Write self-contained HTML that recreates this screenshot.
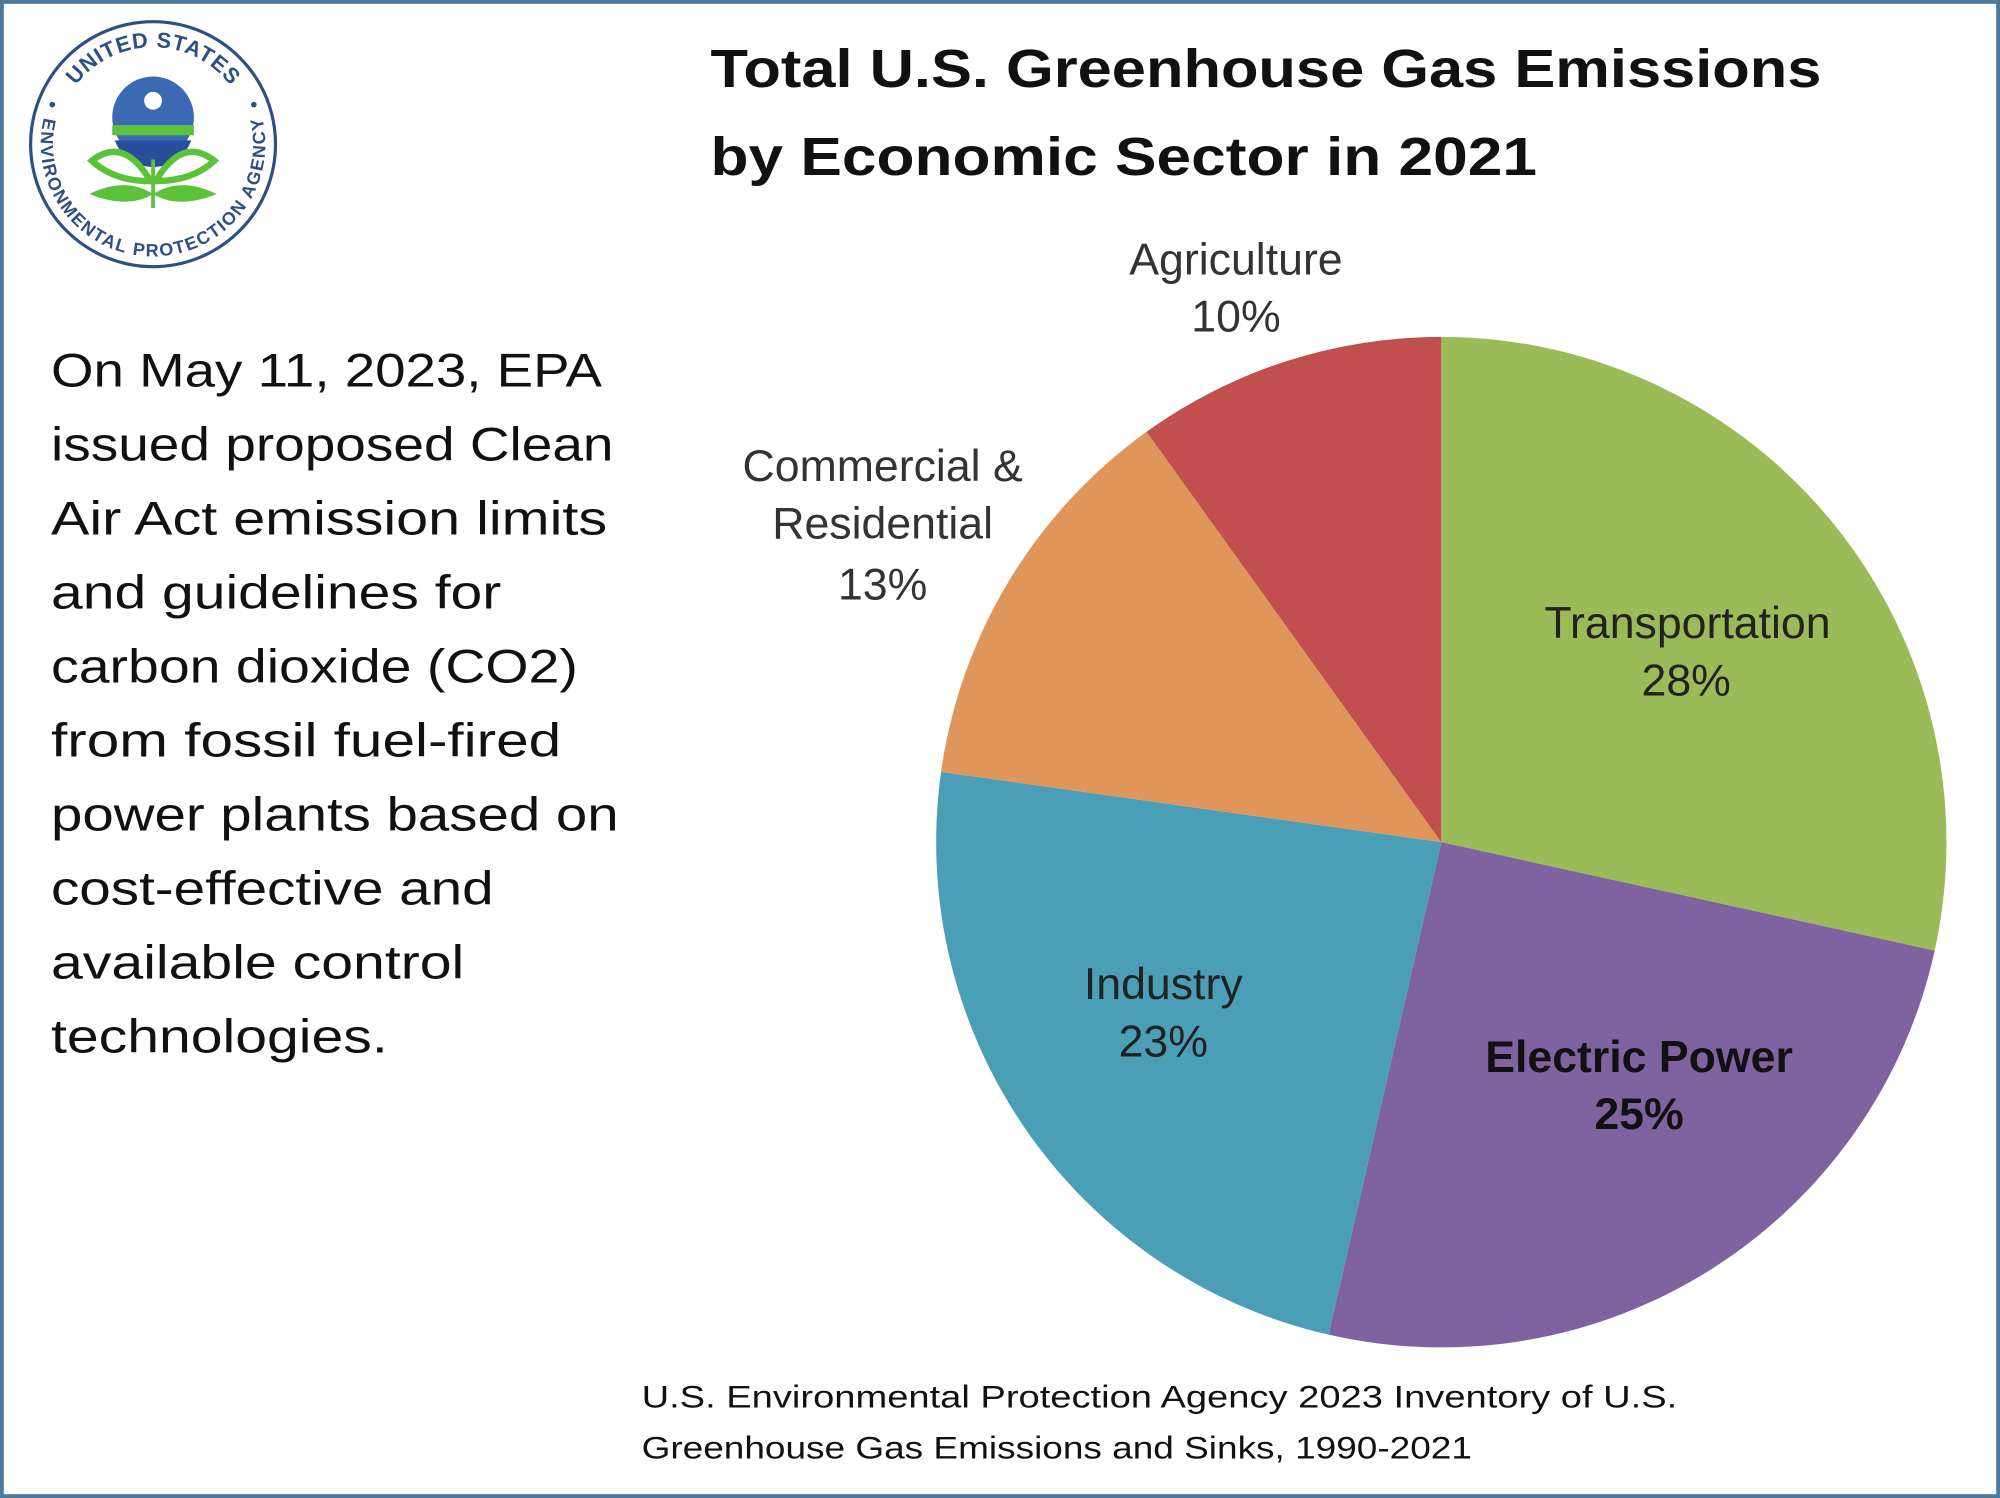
<!DOCTYPE html>
<html><head><meta charset="utf-8"><style>
html,body{margin:0;padding:0;background:#fff;}
svg{display:block;}
text{font-family:"Liberation Sans",sans-serif;}
</style></head><body>
<svg width="2000" height="1498" viewBox="0 0 1568 1174" preserveAspectRatio="none" xmlns="http://www.w3.org/2000/svg">
<rect x="0" y="0" width="1568" height="1174" fill="#fff"/>
<rect x="1.5" y="1.5" width="1565" height="1171" fill="none" stroke="#4a7a9c" stroke-width="3"/>

<!-- logo -->
<g>
<circle cx="120" cy="113" r="96" fill="#fff" stroke="#2c4f86" stroke-width="2.5"/>
<defs>
<path id="tp" d="M44,113 A76,76 0 0,1 196,113"/>
<path id="bp" d="M37.3,82.9 A88,88 0 1,0 202.7,82.9"/>
</defs>
<text font-size="17" font-weight="bold" fill="#2c4f86" text-anchor="middle"><textPath href="#tp" startOffset="50%" textLength="140" lengthAdjust="spacing">UNITED STATES</textPath></text>
<text font-size="14" font-weight="bold" fill="#2c4f86" text-anchor="middle"><textPath href="#bp" startOffset="50%" textLength="318" lengthAdjust="spacing">ENVIRONMENTAL PROTECTION AGENCY</textPath></text>
<circle cx="41" cy="82" r="2.2" fill="#2c4f86"/>
<circle cx="199" cy="82" r="2.2" fill="#2c4f86"/>
<circle cx="120" cy="92" r="32" fill="#3b69b3"/>
<rect x="88" y="98" width="64" height="8" fill="#5cc23a"/>
<path d="M90,110 A32,32 0 0,0 150,110 Z" fill="#264e9a"/>
<circle cx="120" cy="79" r="7" fill="#fff"/>
<path d="M118,142 C105,120 90,112 72,126 C85,138 102,142 118,142Z" fill="#fff" stroke="#5cc23a" stroke-width="5"/>
<path d="M122,142 C135,120 150,112 168,126 C155,138 138,142 122,142Z" fill="#fff" stroke="#5cc23a" stroke-width="5"/>
<path d="M70,152 C95,140 110,146 120,152 C110,158 95,162 70,152Z" fill="#5cc23a"/>
<path d="M170,152 C145,140 130,146 120,152 C130,158 145,162 170,152Z" fill="#5cc23a"/>
<rect x="118.5" y="125" width="3" height="38" fill="#5cc23a"/>
</g>

<!-- title -->
<text x="557" y="68" font-size="42" font-weight="bold" fill="#111" textLength="871" lengthAdjust="spacingAndGlyphs">Total U.S. Greenhouse Gas Emissions</text>
<text x="557" y="137" font-size="42" font-weight="bold" fill="#111" textLength="648" lengthAdjust="spacingAndGlyphs">by Economic Sector in 2021</text>

<!-- left text -->
<g font-size="37" fill="#111">
<text x="40" y="303" textLength="432" lengthAdjust="spacingAndGlyphs">On May 11, 2023, EPA</text>
<text x="40" y="361" textLength="441" lengthAdjust="spacingAndGlyphs">issued proposed Clean</text>
<text x="40" y="419" textLength="436" lengthAdjust="spacingAndGlyphs">Air Act emission limits</text>
<text x="40" y="477" textLength="353" lengthAdjust="spacingAndGlyphs">and guidelines for</text>
<text x="40" y="535" textLength="413" lengthAdjust="spacingAndGlyphs">carbon dioxide (CO2)</text>
<text x="40" y="593" textLength="400" lengthAdjust="spacingAndGlyphs">from fossil fuel-fired</text>
<text x="40" y="651" textLength="445" lengthAdjust="spacingAndGlyphs">power plants based on</text>
<text x="40" y="709" textLength="347" lengthAdjust="spacingAndGlyphs">cost-effective and</text>
<text x="40" y="767" textLength="324" lengthAdjust="spacingAndGlyphs">available control</text>
<text x="40" y="825" textLength="264" lengthAdjust="spacingAndGlyphs">technologies.</text>
</g>

<!-- pie -->
<g>
<path d="M1130,660 L1130,264 A396,396 0 0,1 1516.8,745 Z" fill="#9bbb59"/>
<path d="M1130,660 L1516.8,745 A396,396 0 0,1 1041.6,1046 Z" fill="#7f63a1"/>
<path d="M1130,660 L1041.6,1046 A396,396 0 0,1 737.8,604.9 Z" fill="#4a9fb6"/>
<path d="M1130,660 L737.8,604.9 A396,396 0 0,1 898.9,338.4 Z" fill="#e0965a"/>
<path d="M1130,660 L898.9,338.4 A396,396 0 0,1 1130,264 Z" fill="#c04f4d"/>
</g>

<!-- labels -->
<g font-size="35" fill="#333" text-anchor="middle">
<text x="969" y="215">Agriculture</text>
<text x="969" y="260">10%</text>
<text x="692" y="377">Commercial &amp;</text>
<text x="692" y="422">Residential</text>
<text x="692" y="470">13%</text>
<text x="1323" y="500" fill="#222">Transportation</text>
<text x="1322" y="545" fill="#222">28%</text>
<text x="912" y="783" fill="#222">Industry</text>
<text x="912" y="828" fill="#222">23%</text>
<text x="1285" y="840" font-weight="bold" fill="#111">Electric Power</text>
<text x="1285" y="885" font-weight="bold" fill="#111">25%</text>
</g>

<!-- source -->
<g font-size="25" fill="#111">
<text x="503" y="1103" textLength="812" lengthAdjust="spacingAndGlyphs">U.S. Environmental Protection Agency 2023 Inventory of U.S.</text>
<text x="503" y="1143" textLength="651" lengthAdjust="spacingAndGlyphs">Greenhouse Gas Emissions and Sinks, 1990-2021</text>
</g>
</svg>
</body></html>
